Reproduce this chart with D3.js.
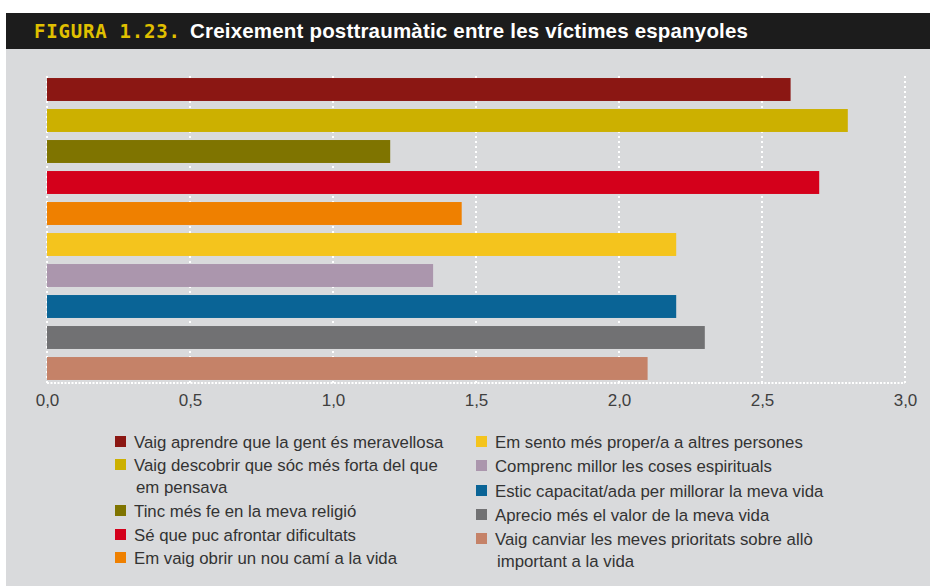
<!DOCTYPE html>
<html>
<head>
<meta charset="utf-8">
<script src="https://cdn.jsdelivr.net/npm/d3@7"></script>
<style>
  body { margin: 0; background: #fff; }
  text { font-family: "Liberation Sans", Arial, sans-serif; }
</style>
</head>
<body>
<div id="chart"></div>
<script>
var labels = [
  "Vaig aprendre que la gent és meravellosa",
  "Vaig descobrir que sóc més forta del que|em pensava",
  "Tinc més fe en la meva religió",
  "Sé que puc afrontar dificultats",
  "Em vaig obrir un nou camí a la vida",
  "Em sento més proper/a a altres persones",
  "Comprenc millor les coses espirituals",
  "Estic capacitat/ada per millorar la meva vida",
  "Aprecio més el valor de la meva vida",
  "Vaig canviar les meves prioritats sobre allò|important a la vida"
];
var values = [2.6, 2.8, 1.2, 2.7, 1.45, 2.2, 1.35, 2.2, 2.3, 2.1];
var colors = ["#8b1713", "#ccb000", "#7f7400", "#d4001b", "#ef8000",
              "#f4c41d", "#ab96ad", "#0a6496", "#717173", "#c58268"];
var ticks = [0, 0.5, 1, 1.5, 2, 2.5, 3];

var width = 930, height = 586;
var svg = d3.select("#chart").append("svg")
  .attr("width", width)
  .attr("height", height);

// panel + title bar
svg.append("rect").attr("x", 6).attr("y", 48).attr("width", width - 6).attr("height", height - 48)
  .attr("fill", "#d9dadc");
svg.append("rect").attr("x", 6).attr("y", 13).attr("width", width - 6).attr("height", 36)
  .attr("fill", "#1c1c1c");

svg.append("text").attr("x", 34).attr("y", 38)
  .text("FIGURA 1.23.")
  .attr("fill", "#e0c000")
  .attr("textLength", 146)
  .style("font-family", "'DejaVu Sans Mono', monospace")
  .style("font-weight", "bold")
  .style("font-size", "19px");
svg.append("text").attr("x", 190).attr("y", 38)
  .text("Creixement posttraumàtic entre les víctimes espanyoles")
  .attr("fill", "#fff")
  .attr("textLength", 558)
  .style("font-weight", "bold")
  .style("font-size", "20.5px");

var x = d3.scaleLinear().domain([0, 3]).range([47, 905]);
var y = d3.scaleBand().domain(d3.range(values.length)).range([74, 384]).paddingInner(0.26).paddingOuter(0.13);

// grid
svg.selectAll(".grid").data(ticks).enter().append("line")
  .attr("class", "grid")
  .attr("x1", d => x(d)).attr("x2", d => x(d))
  .attr("y1", 76).attr("y2", 383)
  .attr("stroke", "#fff").attr("stroke-width", 2)
  .attr("stroke-dasharray", "2,3");

svg.selectAll(".bar").data(values).enter().append("rect")
  .attr("class", "bar")
  .attr("x", x(0))
  .attr("y", (d, i) => y(i))
  .attr("width", d => x(d) - x(0))
  .attr("height", y.bandwidth())
  .attr("fill", (d, i) => colors[i]);

svg.append("line")
  .attr("x1", x(0)).attr("x2", x(3))
  .attr("y1", 383).attr("y2", 383)
  .attr("stroke", "#fff").attr("stroke-width", 2)
  .attr("stroke-dasharray", "2,1.5");

var xAxis = d3.axisBottom(x).tickValues(ticks).tickSize(0)
  .tickFormat(d => d3.format(".1f")(d).replace(".", ","));
var ax = svg.append("g").attr("transform", "translate(0,391)").call(xAxis);
ax.select(".domain").remove();
ax.selectAll("text")
  .attr("fill", "#3f3f3f")
  .style("font-size", "17px")
  .style("font-family", "'Liberation Sans', Arial, sans-serif");

// legend
var rowsLeft = [443, 466, 512, 536, 559];
var rowsRight = [443, 467, 492, 516, 540];
labels.forEach(function(lab, i) {
  var col = i < 5 ? 0 : 1;
  var lx = col === 0 ? 115 : 476;
  var ly = col === 0 ? rowsLeft[i] : rowsRight[i - 5];
  svg.append("rect")
    .attr("x", lx).attr("y", ly - 7)
    .attr("width", 11).attr("height", 11)
    .attr("fill", colors[i]);
  var t = svg.append("text")
    .attr("x", lx + 19).attr("y", ly + 5)
    .attr("fill", "#333")
    .style("font-size", "16.8px");
  lab.split("|").forEach(function(part, j) {
    t.append("tspan")
      .attr("x", lx + 19 + (j > 0 ? 2 : 0))
      .attr("dy", j === 0 ? 0 : 22)
      .text(part);
  });
});
</script>
</body>
</html>
